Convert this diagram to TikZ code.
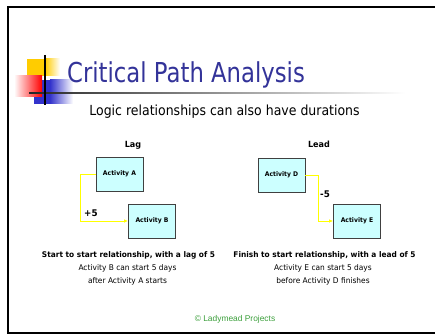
\documentclass[tikz,border=0pt]{standalone}
\usepackage{fontspec}
\setmainfont{DejaVu Sans}[FakeStretch=0.83]
\newfontfamily\midfont{DejaVu Sans}[FakeStretch=0.9]
\newfontfamily\smallfont{DejaVu Sans}[FakeStretch=0.95]
\newfontfamily\arialfont{Liberation Sans}
\usetikzlibrary{arrows.meta}
\definecolor{titleblue}{RGB}{51,51,153}
\definecolor{boxfill}{RGB}{204,255,255}
\definecolor{connyellow}{RGB}{255,255,0}
\definecolor{logoyellow}{RGB}{255,204,0}
\definecolor{logored}{RGB}{255,0,0}
\definecolor{logoblue}{RGB}{51,51,204}
\definecolor{copygreen}{RGB}{60,160,60}
\tikzset{
  actbox/.style={draw=black!75, line width=0.8pt, fill=boxfill, minimum width=47pt, minimum height=34pt, inner sep=0pt, font=\smallfont\bfseries\fontsize{6.4}{8}\selectfont},
  conn/.style={draw=connyellow, line width=0.9pt, -{Latex[length=4pt,width=3.5pt]}},
  txt/.style={inner sep=0pt, anchor=base},
  headlbl/.style={txt, font=\smallfont\bfseries\fontsize{8.5}{10}\selectfont},
  durlbl/.style={inner sep=0pt, anchor=base west, font=\smallfont\bfseries\fontsize{9.2}{11}\selectfont},
  boldline/.style={txt, font=\smallfont\bfseries\fontsize{7.8}{9}\selectfont},
  plainline/.style={txt, font=\smallfont\fontsize{7.85}{9}\selectfont}
}
\begin{document}
\begin{tikzpicture}[x=1pt,y=-1pt]
\useasboundingbox[fill=white] (0,0) rectangle (435,336);
% frame
\draw[line width=2.2pt] (436,7) -- (8,7) -- (8,333) -- (436,333);
% logo
\fill[logoyellow] (27,59) rectangle (45,76);
\shade[left color=logoyellow, right color=white] (45,59) rectangle (60,76);
\fill[logoblue] (34,80) rectangle (50,104);
\shade[left color=logoblue, right color=white] (50,80) rectangle (73,104);
\shade[left color=white, right color=logored] (14,76) rectangle (42,97);
\shade[left color=black!85, right color=white] (29,92.2) rectangle (405,94);
\draw[line width=1.5pt] (45,55) -- (45,105);
% title
\node[inner sep=0pt, anchor=base west, text=titleblue, font=\fontsize{27.4}{30}\selectfont] (title) at (67,83) {Critical Path Analysis};
\node[txt, font=\midfont\fontsize{13.9}{16}\selectfont] (subtitle) at (224.5,116) {Logic relationships can also have durations};
% lag
\node[headlbl] (lag) at (133,148) {Lag};
\node[actbox] (A) at (119.5,174) {Activity A};
\node[actbox] (B) at (152,221) {Activity B};
\draw[conn] (A.west) -- ++(-15,0) |- (B.west);
\node[durlbl] (plus5) at (84,216) {+5};
% lead
\node[headlbl] (lead) at (319,148) {Lead};
\node[actbox] (D) at (281.5,175) {Activity D};
\node[actbox] (E) at (357,221) {Activity E};
\draw[conn] (D.east) -- ++(13,0) |- (E.west);
\node[durlbl] (minus5) at (320,198) {-5};
% captions
\node[boldline] (lagcap) at (128.5,257) {Start to start relationship, with a lag of 5};
\node[plainline] (lagl1) at (127.5,270) {Activity B can start 5 days};
\node[plainline] (lagl2) at (127.5,283) {after Activity A starts};
\node[boldline] (leadcap) at (324.5,257) {Finish to start relationship, with a lead of 5};
\node[plainline] (leadl1) at (323,270) {Activity E can start 5 days};
\node[plainline] (leadl2) at (323,283) {before Activity D finishes};
% footer
\node[txt, text=copygreen, font=\arialfont\fontsize{8.4}{10}\selectfont] (copy) at (235,321) {\textcopyright{} Ladymead Projects};
\end{tikzpicture}
\end{document}
